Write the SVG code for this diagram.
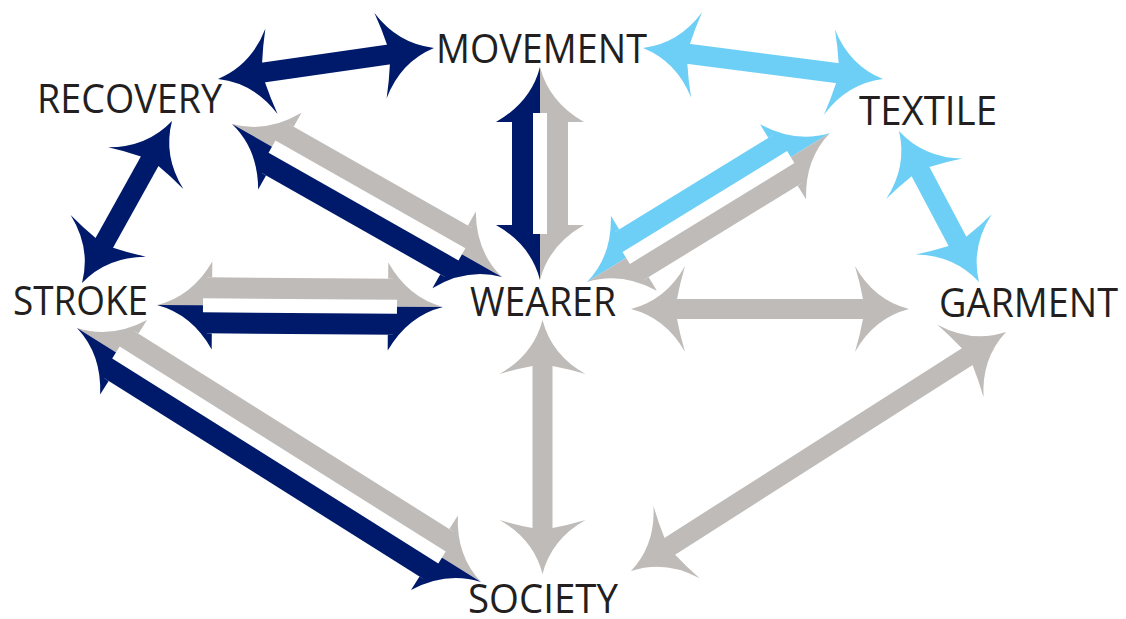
<svg xmlns="http://www.w3.org/2000/svg" width="1126" height="619" viewBox="0 0 1126 619">
  <style>
    .navy { fill: #001a6b; }
    .sky { fill: #6dcff6; }
    .grey { fill: #bebbb8; }
    .slot { fill: #ffffff; }
    .label { font-family: "Open Sans", "Noto Sans", "Liberation Sans", sans-serif; font-size: 41px; fill: #231f20; }
  </style>
  <defs>
    <!-- full swept arrowhead, tip at origin, pointing +x -->
    <path id="hr" d="M0 0 Q-35 -9 -54 -43 Q-49 -26 -46 -10 L-46 10 Q-49 26 -54 43 Q-35 9 0 0 Z"/>
    <!-- upper half of a swept arrowhead for two-tone arrows, tip at origin, pointing +x -->
    <path id="sh" d="M0 0 Q-35 -9 -55 -44 Q-55 -36 -55 -28 L-50 -28 L-50 0 Z"/>
  </defs>

  <g id="connectors">
    <!-- RECOVERY <-> MOVEMENT -->
    <g class="navy" transform="translate(218 79) rotate(-8.17)">
      <use href="#hr" transform="scale(-1 1)"/>
      <rect x="45" y="-10" width="128.2" height="20"/>
      <use href="#hr" transform="translate(218.2 0)"/>
    </g>
    <!-- MOVEMENT <-> TEXTILE -->
    <g class="sky" transform="translate(643 48) rotate(7.36)">
      <use href="#hr" transform="scale(-1 1)"/>
      <rect x="45" y="-10" width="152" height="20"/>
      <use href="#hr" transform="translate(242 0)"/>
    </g>
    <!-- STROKE <-> RECOVERY -->
    <g class="navy" transform="translate(82 283) rotate(-60.94)">
      <use href="#hr" transform="scale(-1 1)"/>
      <rect x="45" y="-10" width="95.3" height="20"/>
      <use href="#hr" transform="translate(185.3 0)"/>
    </g>
    <!-- TEXTILE <-> GARMENT -->
    <g class="sky" transform="translate(899 131) rotate(62.08)">
      <use href="#hr" transform="scale(-1 1)"/>
      <rect x="45" y="-10" width="80.9" height="20"/>
      <use href="#hr" transform="translate(170.9 0)"/>
    </g>
    <!-- WEARER <-> GARMENT -->
    <g class="grey" transform="translate(631 309)">
      <use href="#hr" transform="scale(-1 1)"/>
      <rect x="45" y="-10" width="188" height="20"/>
      <use href="#hr" transform="translate(278 0)"/>
    </g>
    <!-- WEARER <-> SOCIETY -->
    <g class="grey" transform="translate(542.5 320) rotate(90)">
      <use href="#hr" transform="scale(-1 1)"/>
      <rect x="45" y="-10" width="164" height="20"/>
      <use href="#hr" transform="translate(254 0)"/>
    </g>
    <!-- SOCIETY <-> GARMENT -->
    <g class="grey" transform="translate(631 571) rotate(-32.51)">
      <use href="#hr" transform="scale(-1 1)"/>
      <rect x="45" y="-10" width="354.7" height="20"/>
      <use href="#hr" transform="translate(444.7 0)"/>
    </g>

    <!-- MOVEMENT <-> WEARER (two-tone) -->
    <g transform="translate(540 67) rotate(90)">
      <g class="grey">
        <use href="#sh" transform="scale(-1 1)"/>
        <rect x="49" y="-28" width="115" height="28"/>
        <use href="#sh" transform="translate(213 0)"/>
      </g>
      <g class="navy">
        <use href="#sh" transform="scale(-1 -1)"/>
        <rect x="49" y="0" width="115" height="28"/>
        <use href="#sh" transform="translate(213 0) scale(1 -1)"/>
      </g>
      <rect class="slot" x="46" y="-7" width="121" height="14"/>
    </g>
    <!-- RECOVERY <-> WEARER (two-tone) -->
    <g transform="translate(232 124) rotate(29.54)">
      <g class="grey">
        <use href="#sh" transform="scale(-1 1)"/>
        <rect x="49" y="-28" width="212.3" height="28"/>
        <use href="#sh" transform="translate(310.3 0)"/>
      </g>
      <g class="navy">
        <use href="#sh" transform="scale(-1 -1)"/>
        <rect x="49" y="0" width="212.3" height="28"/>
        <use href="#sh" transform="translate(310.3 0) scale(1 -1)"/>
      </g>
      <rect class="slot" x="46" y="-7" width="218.3" height="14"/>
    </g>
    <!-- STROKE <-> WEARER (two-tone) -->
    <g transform="translate(157 305) rotate(0.4)">
      <g class="grey">
        <use href="#sh" transform="scale(-1 1)"/>
        <rect x="49" y="-28" width="188" height="28"/>
        <use href="#sh" transform="translate(286 0)"/>
      </g>
      <g class="navy">
        <use href="#sh" transform="scale(-1 -1)"/>
        <rect x="49" y="0" width="188" height="28"/>
        <use href="#sh" transform="translate(286 0) scale(1 -1)"/>
      </g>
      <rect class="slot" x="46" y="-7" width="194" height="14"/>
    </g>
    <!-- STROKE <-> SOCIETY (two-tone) -->
    <g transform="translate(77 328) rotate(32.16)">
      <g class="grey">
        <use href="#sh" transform="scale(-1 1)"/>
        <rect x="49" y="-28" width="379.2" height="28"/>
        <use href="#sh" transform="translate(477.2 0)"/>
      </g>
      <g class="navy">
        <use href="#sh" transform="scale(-1 -1)"/>
        <rect x="49" y="0" width="379.2" height="28"/>
        <use href="#sh" transform="translate(477.2 0) scale(1 -1)"/>
      </g>
      <rect class="slot" x="46" y="-7" width="385.2" height="14"/>
    </g>
    <!-- WEARER <-> TEXTILE (two-tone) -->
    <g transform="translate(587 282) rotate(-31.52)">
      <g class="sky">
        <use href="#sh" transform="scale(-1 1)"/>
        <rect x="49" y="-28" width="187" height="28"/>
        <use href="#sh" transform="translate(285 0)"/>
      </g>
      <g class="grey">
        <use href="#sh" transform="scale(-1 -1)"/>
        <rect x="49" y="0" width="187" height="28"/>
        <use href="#sh" transform="translate(285 0) scale(1 -1)"/>
      </g>
      <rect class="slot" x="46" y="-7" width="193" height="14"/>
    </g>
  </g>

  <g id="movement"><text class="label" x="436" y="63" textLength="211" lengthAdjust="spacingAndGlyphs">MOVEMENT</text></g>
  <g id="recovery"><text class="label" x="37" y="113" textLength="185" lengthAdjust="spacingAndGlyphs">RECOVERY</text></g>
  <g id="textile"><text class="label" x="859" y="125" textLength="138" lengthAdjust="spacingAndGlyphs">TEXTILE</text></g>
  <g id="stroke"><text class="label" x="13" y="315" textLength="135" lengthAdjust="spacingAndGlyphs">STROKE</text></g>
  <g id="wearer"><text class="label" x="470" y="316" textLength="146" lengthAdjust="spacingAndGlyphs">WEARER</text></g>
  <g id="garment"><text class="label" x="939" y="317" textLength="179" lengthAdjust="spacingAndGlyphs">GARMENT</text></g>
  <g id="society"><text class="label" x="468" y="613" textLength="150" lengthAdjust="spacingAndGlyphs">SOCIETY</text></g>
</svg>
